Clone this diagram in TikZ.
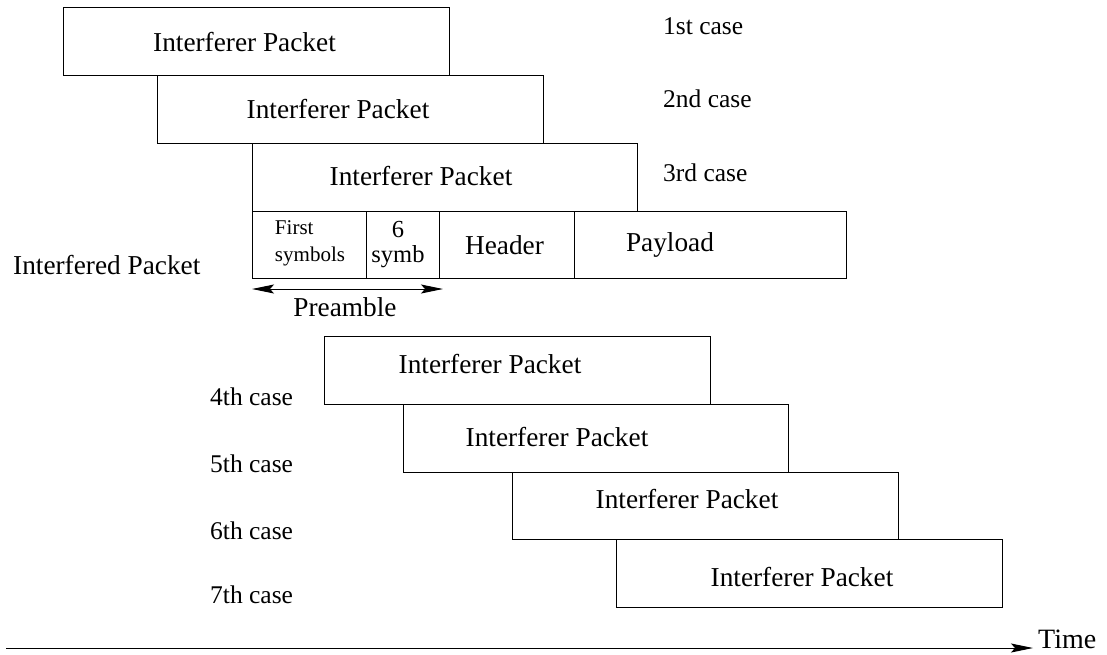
\documentclass[tikz,border=0pt]{standalone}
\usepackage{fontspec}
\setmainfont{Liberation Serif}
\usetikzlibrary{arrows.meta}
\begin{document}
\begin{tikzpicture}[x=1pt,y=-1pt,
  box/.style={draw, line width=1pt, inner sep=0pt, outer sep=0pt, rectangle},
  pkt/.style={box, minimum width=386pt, minimum height=68pt},
  txt/.style={inner sep=0pt, font=\fontsize{27.3}{32}\selectfont},
  casetxt/.style={inner sep=0pt, anchor=west, font=\fontsize{25.5}{30}\selectfont},
  tip/.style={-{Stealth[length=22pt,width=9pt,inset=4pt]}}
]
\useasboundingbox (0,0) rectangle (1107,654);
% upper interferer packets
\node[pkt] (b1) at (256,41.5) {};
\node[pkt] (b2) at (350,109.5) {};
\node[pkt, minimum width=385pt] (b3) at (444.5,177) {};
\node[txt] (t1) at (244.5,42) {Interferer Packet};
\node[txt] (t2) at (338,109) {Interferer Packet};
\node[txt] (t3) at (421,176) {Interferer Packet};
\node[casetxt] (c1) at (663,26) {1st case};
\node[casetxt] (c2) at (663,99) {2nd case};
\node[casetxt] (c3) at (663,173) {3rd case};
% interfered packet
\node[box, minimum width=114pt, minimum height=67pt] (f1) at (309,244.5) {};
\node[box, minimum width=73pt, minimum height=67pt] (f2) at (402.5,244.5) {};
\node[box, minimum width=135pt, minimum height=67pt] (f3) at (506.5,244.5) {};
\node[box, minimum width=272pt, minimum height=67pt] (f4) at (710,244.5) {};
\node[inner sep=0pt, align=left, font=\fontsize{21}{27}\selectfont] (s1) at (310,243.5) {First\\symbols};
\node[inner sep=0pt, align=center, font=\fontsize{24.5}{25}\selectfont] (s2) at (398,245) {6\\symb};
\node[txt] (s3) at (504.5,245) {Header};
\node[txt] (s4) at (670,245) {Payload};
\node[txt, anchor=west] (ifd) at (13,265) {Interfered Packet};
% preamble arrow
\coordinate (pa) at (252,289);
\coordinate (pb) at (443,289);
\draw[line width=1pt, {Stealth[length=22pt,width=9pt,inset=4pt]}-{Stealth[length=22pt,width=9pt,inset=4pt]}] (pa) -- (pb);
\node[txt] (pre) at (345,307) {Preamble};
% lower interferer packets
\node[pkt] (b4) at (517,370) {};
\node[pkt, minimum width=385pt] (b5) at (595.5,438) {};
\node[pkt, minimum width=386pt, minimum height=67pt] (b6) at (705,505.5) {};
\node[pkt, minimum width=386pt] (b7) at (809,573) {};
\node[txt] (t4) at (490,364) {Interferer Packet};
\node[txt] (t5) at (557,437) {Interferer Packet};
\node[txt] (t6) at (687,499) {Interferer Packet};
\node[txt] (t7) at (802,577) {Interferer Packet};
\node[casetxt] (c4) at (210,397) {4th case};
\node[casetxt] (c5) at (210,464) {5th case};
\node[casetxt] (c6) at (210,531) {6th case};
\node[casetxt] (c7) at (210,595) {7th case};
% time axis
\coordinate (ta) at (6,648);
\coordinate (tb) at (1033,648);
\draw[line width=1pt, tip] (ta) -- (tb);
\node[inner sep=0pt, anchor=base west, font=\fontsize{28}{32}\selectfont] (time) at (1038,648) {Time};
\end{tikzpicture}
\end{document}
